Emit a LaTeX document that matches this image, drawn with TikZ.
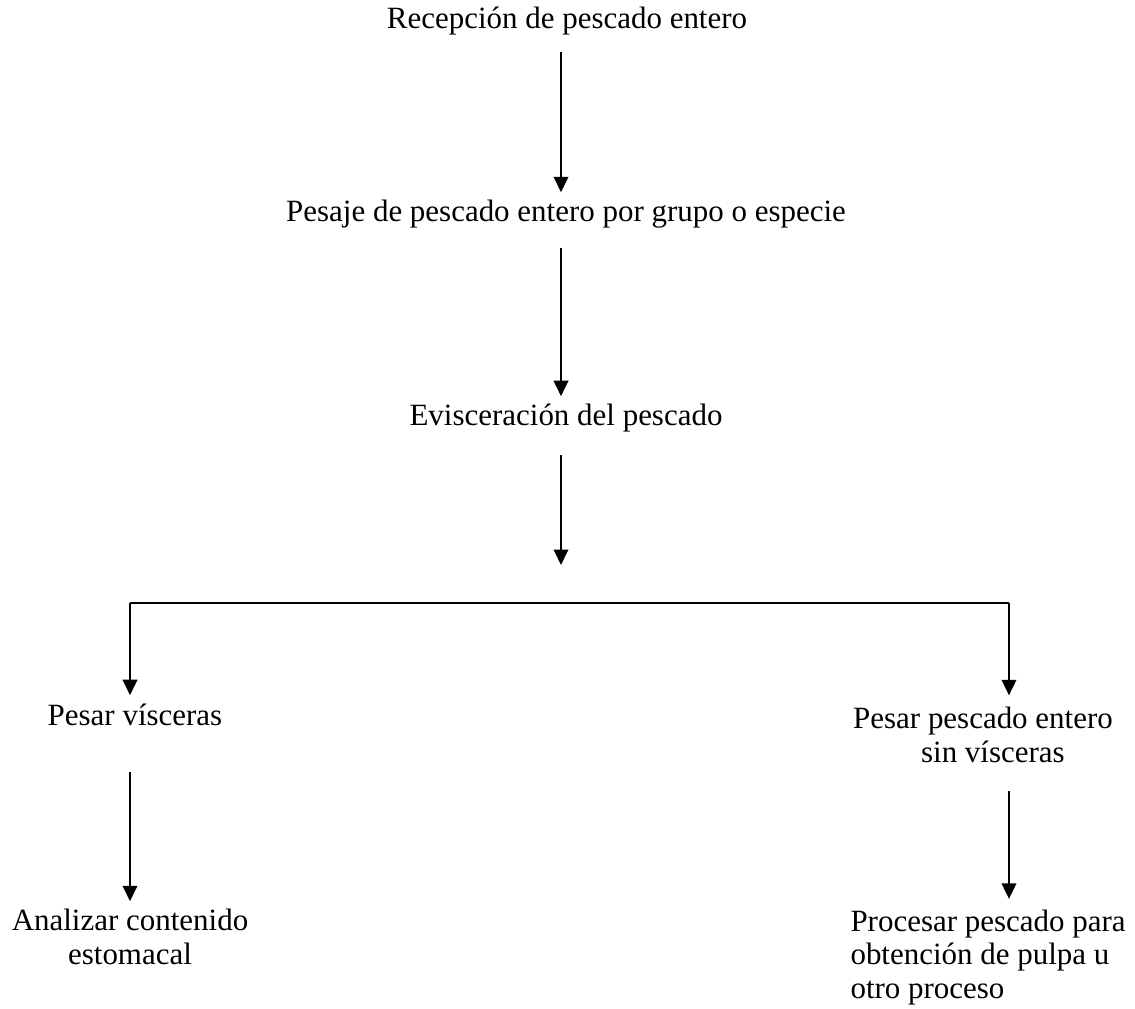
\documentclass[tikz,border=0pt]{standalone}
\usepackage{fontspec}
\setmainfont{Liberation Serif}
\usetikzlibrary{arrows.meta, positioning, calc}

\begin{document}
\begin{tikzpicture}[
    x=0.3876pt, y=-0.3876pt,
    paso/.style={
      inner sep=0pt, font=\fontsize{12}{12.8}\selectfont,
      align=center, anchor=base
    },
    arr/.style={-{Triangle[length=6pt, width=5.6pt]}, line width=0.8pt,
      shorten <=7.4pt, shorten >=3pt},
  ]
  \useasboundingbox (0,0) rectangle (1135,1009);

  % columna central
  \node[paso] (rec) at (567,29) {Recepción de pescado entero};
  \node[paso] (pes) at (566,222) {Pesaje de pescado entero por grupo o especie};
  \node[paso] (evi) at (566,426) {Evisceración del pescado};
  \coordinate (split) at (561,565);

  % reparto
  \coordinate (bl) at (130,603);
  \coordinate (br) at (1009,603);

  \node[paso] (vis) at (135,725) {Pesar vísceras};
  \node[paso] (ent) at (983,762) {Pesar pescado entero\\\hspace*{7.7pt}sin vísceras};
  \node[paso] (ana) at (130,964) {Analizar contenido\\estomacal};
  \node[paso, align=left, anchor=base west] (pro) at (850,998)
    {Procesar pescado para\\obtención de pulpa u\\otro proceso};

  \draw[arr, shorten <=6.2pt] (rec.south -| split) -- (pes.north -| split);
  \draw[arr] (pes.south -| split) -- (evi.north -| split);
  \draw[arr, shorten <=8.5pt, shorten >=0pt] (evi.south -| split) -- (split);
  \draw[line width=0.8pt] (bl) -- (br);
  \draw[arr, shorten <=0pt] (bl) -- (bl |- vis.north);
  \draw[arr, shorten <=0pt, shorten >=4.5pt] (br) -- (br |- ent.north);
  \draw[arr, shorten <=18pt] (vis.south -| bl) -- (bl |- ana.north);
  \draw[arr, shorten <=11pt, shorten >=4.3pt] (ent.south -| br) -- (br |- pro.north);
\end{tikzpicture}
\end{document}
